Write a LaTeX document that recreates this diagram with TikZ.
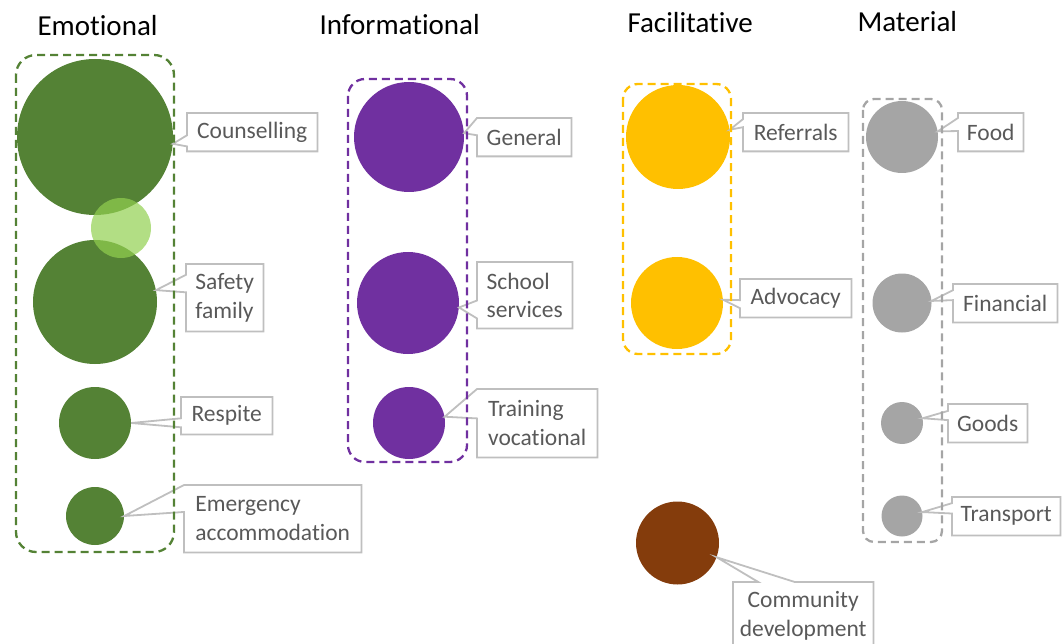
\documentclass[tikz,border=0pt]{standalone}
\usepackage{fontspec}
\setmainfont{Carlito}[RawFeature={-liga}]
\usepackage{xcolor}
\usetikzlibrary{calc}

\definecolor{emogreen}{HTML}{548235}
\definecolor{emolight}{HTML}{92D050}
\definecolor{infopurple}{HTML}{7030A0}
\definecolor{facgold}{HTML}{FFC000}
\definecolor{combrown}{HTML}{843C0C}
\definecolor{matgray}{HTML}{A5A5A5}
\definecolor{labelgray}{HTML}{595959}
\definecolor{calloutgray}{HTML}{BFBFBF}

\begin{document}
\begin{tikzpicture}[
    x=1pt, y=-1pt,
    bubble/.style={circle, inner sep=0pt, draw=none},
    lbl/.style={rectangle, anchor=north west, align=left, inner sep=0pt, text=labelgray, font=\fontsize{23.5}{28.5}\selectfont},
    callout/.style={draw=calloutgray, line width=1.8pt, line join=miter},
    group/.style={line width=2.3pt, dash pattern=on 8pt off 5pt},
    title/.style={anchor=base west, font=\fontsize{29}{34}\selectfont}
]
    \useasboundingbox (0,0) rectangle (1062,644);

    % Titles
    \node[title] (tEmo) at (34,36) {Emotional};
    \node[title] (tInfo) at (316,35) {Informational};
    \node[title] (tFac) at (624,33) {Facilitative};
    \node[title] (tMat) at (854,32) {Material};

    % Emotional
    \node[bubble, fill=emogreen, minimum size=156] (cCoun) at (95,137) {};
    \node[bubble, fill=emogreen, minimum size=124] (cSafe) at (95,302) {};
    \node[bubble, fill=emogreen, minimum size=72] (cResp) at (95,423) {};
    \node[bubble, fill=emogreen, minimum size=58] (cEmer) at (95,516) {};
    \node[bubble, fill=emolight, fill opacity=0.7, minimum size=60] (cLink) at (121,228) {};

    % Informational
    \node[bubble, fill=infopurple, minimum size=110] (cGen) at (409,137) {};
    \node[bubble, fill=infopurple, minimum size=102] (cSch) at (408,303) {};
    \node[bubble, fill=infopurple, minimum size=72] (cTrain) at (409,423) {};

    % Facilitative
    \node[bubble, fill=facgold, minimum size=104] (cRef) at (678,137) {};
    \node[bubble, fill=facgold, minimum size=92] (cAdv) at (677,303) {};
    \node[bubble, fill=combrown, minimum size=83] (cCom) at (677.5,543) {};

    % Material
    \node[bubble, fill=matgray, minimum size=72] (cFood) at (902,137) {};
    \node[bubble, fill=matgray, minimum size=59] (cFin) at (902,303) {};
    \node[bubble, fill=matgray, minimum size=42] (cGoods) at (902,423) {};
    \node[bubble, fill=matgray, minimum size=41] (cTrans) at (902,516) {};

    % Labels
    \node[lbl, minimum width=130, minimum height=38] (lCoun) at (187,113) {Counselling};
    \node[lbl, minimum width=77, minimum height=67] (lSafe) at (186,264) {Safety\\family};
    \node[lbl, minimum width=91, minimum height=37] (lResp) at (181,397) {Respite};
    \node[lbl, minimum width=177, minimum height=67] (lEmer) at (184,485) {Emergency\\accommodation};
    \node[lbl, minimum width=94, minimum height=38] (lGen) at (477,118) {General};
    \node[lbl, minimum width=95, minimum height=66] (lSch) at (477,262) {School\\services};
    \node[lbl, minimum width=120, minimum height=68] (lTrain) at (477,389) {Training\\vocational};
    \node[lbl, minimum width=105, minimum height=38] (lRef) at (743,113) {Referrals};
    \node[lbl, minimum width=111, minimum height=38] (lAdv) at (740,279) {Advocacy};
    \node[lbl, align=center, minimum width=140, minimum height=67] (lCom) at (733,582) {Community\\development};
    \node[lbl, minimum width=65, minimum height=38] (lFood) at (958,113) {Food};
    \node[lbl, minimum width=104, minimum height=38] (lFin) at (953,284) {Financial};
    \node[lbl, minimum width=79, minimum height=38] (lGoods) at (948,404) {Goods};
    \node[lbl, minimum width=108, minimum height=38] (lTrans) at (952,497) {Transport};

    % Callouts
    \draw[callout] (lCoun.north west) -- (lCoun.north east) -- (lCoun.south east) -- (lCoun.south west) -- ($(lCoun.north west)!0.87!(lCoun.south west)$) -- (cCoun.-5) -- ($(lCoun.north west)!0.58!(lCoun.south west)$) -- cycle;
    \draw[callout] (lSafe.north west) -- (lSafe.north east) -- (lSafe.south east) -- (lSafe.south west) -- ($(lSafe.north west)!0.42!(lSafe.south west)$) -- (cSafe.11) -- ($(lSafe.north west)!0.16!(lSafe.south west)$) -- cycle;
    \draw[callout] (lResp.north west) -- (lResp.north east) -- (lResp.south east) -- (lResp.south west) -- ($(lResp.north west)!0.81!(lResp.south west)$) -- (cResp.0) -- ($(lResp.north west)!0.57!(lResp.south west)$) -- cycle;
    \draw[callout] (lEmer.north west) -- (lEmer.north east) -- (lEmer.south east) -- (lEmer.south west) -- ($(lEmer.north west)!0.4!(lEmer.south west)$) -- (cEmer.0) -- cycle;
    \draw[callout] (lGen.north west) -- (lGen.north east) -- (lGen.south east) -- (lGen.south west) -- ($(lGen.north west)!0.45!(lGen.south west)$) -- (cGen.4) -- cycle;
    \draw[callout] (lSch.north west) -- (lSch.north east) -- (lSch.south east) -- (lSch.south west) -- ($(lSch.north west)!0.85!(lSch.south west)$) -- (cSch.-5) -- ($(lSch.north west)!0.58!(lSch.south west)$) -- cycle;
    \draw[callout] (lTrain.north west) -- (lTrain.north east) -- (lTrain.south east) -- (lTrain.south west) -- ($(lTrain.north west)!0.43!(lTrain.south west)$) -- (cTrain.10) -- cycle;
    \draw[callout] (lRef.north west) -- (lRef.north east) -- (lRef.south east) -- (lRef.south west) -- ($(lRef.north west)!0.37!(lRef.south west)$) -- (cRef.8) -- ($(lRef.north west)!0.16!(lRef.south west)$) -- cycle;
    \draw[callout] (lAdv.north west) -- (lAdv.north east) -- (lAdv.south east) -- (lAdv.south west) -- ($(lAdv.north west)!0.76!(lAdv.south west)$) -- (cAdv.4) -- ($(lAdv.north west)!0.55!(lAdv.south west)$) -- cycle;
    \draw[callout] (lCom.north west) -- ($(lCom.north west)!0.18!(lCom.north east)$) -- (cCom.-20) -- ($(lCom.north west)!0.44!(lCom.north east)$) -- (lCom.north east) -- (lCom.south east) -- (lCom.south west) -- cycle;
    \draw[callout] (lFood.north west) -- (lFood.north east) -- (lFood.south east) -- (lFood.south west) -- ($(lFood.north west)!0.47!(lFood.south west)$) -- (cFood.9) -- ($(lFood.north west)!0.13!(lFood.south west)$) -- cycle;
    \draw[callout] (lFin.north west) -- (lFin.north east) -- (lFin.south east) -- (lFin.south west) -- ($(lFin.north west)!0.42!(lFin.south west)$) -- (cFin.4) -- ($(lFin.north west)!0.16!(lFin.south west)$) -- cycle;
    \draw[callout] (lGoods.north west) -- (lGoods.north east) -- (lGoods.south east) -- (lGoods.south west) -- ($(lGoods.north west)!0.42!(lGoods.south west)$) -- (cGoods.13) -- ($(lGoods.north west)!0.18!(lGoods.south west)$) -- cycle;
    \draw[callout] (lTrans.north west) -- (lTrans.north east) -- (lTrans.south east) -- (lTrans.south west) -- ($(lTrans.north west)!0.43!(lTrans.south west)$) -- (cTrans.11) -- ($(lTrans.north west)!0.16!(lTrans.south west)$) -- cycle;

    % Group frames
    \draw[group, draw=emogreen, rounded corners=20pt] (16,55) rectangle (174,552);
    \draw[group, draw=infopurple, rounded corners=17pt] (348,79) rectangle (467,462);
    \draw[group, draw=facgold, rounded corners=15pt] (623,84) rectangle (731,354);
    \draw[group, draw=matgray, rounded corners=11pt] (863,99) rectangle (942,542);
\end{tikzpicture}
\end{document}
